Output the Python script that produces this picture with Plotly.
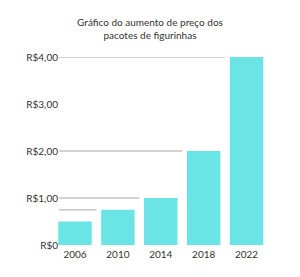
import plotly.graph_objects as go

anos = ["2006", "2010", "2014", "2018", "2022"]
precos = [0.50, 0.75, 1.00, 2.00, 4.00]
y_ticks = [0, 1, 2, 3, 4]
y_ticktext = ["R$0", "R$1,00", "R$2,00", "R$3,00", "R$4,00"]
titulo = "Gráfico do aumento de preço dos<br>pacotes de figurinhas"

fig = go.Figure()
fig.add_trace(go.Bar(
    x=list(range(len(anos))), y=precos,
    marker=dict(color="#6be4e6", line=dict(width=0)),
    hoverinfo="skip",
))

# reference lines: each next value, drawn from the left up to that bar
for i in range(1, len(precos)):
    fig.add_shape(type="line", xref="x", yref="y",
                  x0=-0.37, x1=i - 0.5, y0=precos[i], y1=precos[i],
                  line=dict(color="#c4c4c4", width=1.5), layer="below")

fig.update_layout(
    width=300, height=277, autosize=False,
    margin=dict(l=57, r=31.5, t=57, b=32),
    paper_bgcolor="white", plot_bgcolor="white",
    bargap=0.22, showlegend=False,
    font=dict(family="Lato", color="#333333", size=10),
    title=dict(text=titulo, x=0.5, xanchor="center", xref="container",
               y=1 - 25.5 / 277, yanchor="middle", yref="container",
               font=dict(size=10, color="#333333", family="Lato")),
)
fig.update_xaxes(range=[-0.42, 4.5], tickvals=list(range(len(anos))), ticktext=anos,
                 showgrid=False, zeroline=False, showline=False, ticks="",
                 ticklabelstandoff=2,
                 tickfont=dict(size=10, color="#333333"), fixedrange=True)
fig.update_yaxes(range=[0, 4], tickvals=y_ticks, ticktext=y_ticktext,
                 showgrid=False, zeroline=False, showline=False, ticks="",
                 ticklabelstandoff=-2,
                 tickfont=dict(size=10, color="#333333"), fixedrange=True)

fig.write_html("out.html", config={"displayModeBar": False})
